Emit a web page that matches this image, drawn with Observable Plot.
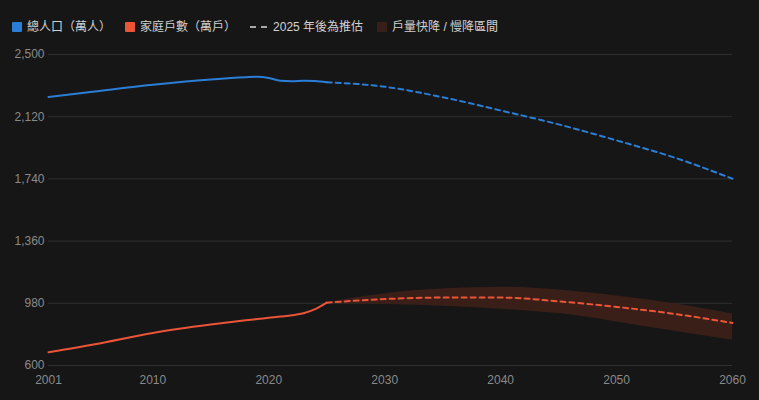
<!DOCTYPE html>
<html>
<head>
<meta charset="utf-8">
<script src="https://cdn.jsdelivr.net/npm/d3@7"></script>
<script src="https://cdn.jsdelivr.net/npm/@observablehq/plot@0.6"></script>
<style>
  html, body { margin: 0; padding: 0; background: #161616; width: 759px; height: 400px; overflow: hidden; }
  body { font-family: "Liberation Sans", "Noto Sans CJK TC", sans-serif; }
  #legend { height: 44px; box-sizing: border-box; padding: 20px 0 0 12px; display: flex; align-items: flex-start; font-size: 12px; color: #d2d2d2; line-height: 14px; font-family: "Liberation Sans", "Noto Sans CJK TC", sans-serif; }
  .item { display: flex; align-items: center; margin-right: 14px; height: 14px; }
  .sw { width: 10px; height: 10px; border-radius: 1px; margin-right: 5px; }
  .dash { width: 18px; height: 2px; margin-right: 5px; background: repeating-linear-gradient(90deg, #a9a9a9 0 6px, transparent 6px 11px); }
  #chart svg { display: block; }
</style>
</head>
<body>
<div id="legend"></div>
<div id="chart"></div>
<script>
// ---- data ----
const histYears = [2001,2005,2010,2015,2018,2019,2020,2021,2022,2023,2024,2025];
const histPop   = [2240,2274,2315,2347,2361,2364,2357,2340,2337,2340,2338,2331];
const histHH    = [681,730,799,850,876,884,891,899,907,919,944,984];
const projYears = [2025,2030,2035,2040,2045,2050,2055,2060];
const projPop   = [2331,2303,2239,2158,2073,1975,1870,1741];
const projHH    = [984,1006,1015,1015,992,958,915,860];
const bandHigh  = [984,1039,1067,1078,1062,1025,978,915];
const bandLow   = [984,973,962,944,917,866,809,754];
const xTicks = [2001,2010,2020,2030,2040,2050,2060];
const yTicks = [600,980,1360,1740,2120,2500];
const legendItems = [
  {label: "總人口（萬人）", color: "#2a7ed6", type: "sq"},
  {label: "家庭戶數（萬戶）", color: "#ea5437", type: "sq"},
  {label: "2025 年後為推估", color: "#a9a9a9", type: "dash"},
  {label: "戶量快降 / 慢降區間", color: "#3a1f19", type: "sq"}
];

const BLUE = "#2a7ed6", RED = "#ea5437", BAND = "#3a1f19";

// legend
const lg = document.getElementById("legend");
legendItems.forEach(it => {
  const d = document.createElement("div"); d.className = "item";
  const s = document.createElement("div");
  if (it.type === "dash") { s.className = "dash"; }
  else { s.className = "sw"; s.style.background = it.color; }
  const t = document.createElement("span"); t.textContent = it.label;
  d.appendChild(s); d.appendChild(t); lg.appendChild(d);
});

const hist = histYears.map((y,i) => ({year: y, pop: histPop[i], hh: histHH[i]}));
const proj = projYears.map((y,i) => ({year: y, pop: projPop[i], hh: projHH[i], hi: bandHigh[i], lo: bandLow[i]}));

const chart = Plot.plot({
  width: 759,
  height: 356,
  marginTop: 10,
  marginBottom: 35,
  marginLeft: 48,
  marginRight: 27,
  style: {background: "#161616", color: "#8a8a8a", fontSize: "12px", fontFamily: "'Liberation Sans', sans-serif"},
  x: {domain: [2001, 2060], ticks: xTicks, tickFormat: d => String(d), tickSize: 0, tickPadding: 10, label: null},
  y: {domain: [600, 2500], ticks: yTicks, tickFormat: d3.format(","), tickSize: 0, tickPadding: 4, label: null},
  marks: [
    Plot.gridY(yTicks, {stroke: "#2f2f2f", strokeOpacity: 1, strokeWidth: 1}),
    Plot.areaY(proj, {x: "year", y1: "lo", y2: "hi", fill: BAND, fillOpacity: 1, curve: "monotone-x"}),
    Plot.line(hist, {x: "year", y: "pop", stroke: BLUE, strokeWidth: 2, curve: "monotone-x"}),
    Plot.line(hist, {x: "year", y: "hh", stroke: RED, strokeWidth: 2, curve: "monotone-x"}),
    Plot.line(proj, {x: "year", y: "pop", stroke: BLUE, strokeWidth: 2, strokeDasharray: "5,4", curve: "monotone-x"}),
    Plot.line(proj, {x: "year", y: "hh", stroke: RED, strokeWidth: 2, strokeDasharray: "5,4", curve: "monotone-x"}),
    Plot.axisX({ticks: xTicks, tickFormat: d => String(d), tickSize: 0, tickPadding: 10, fill: "#8a8a8a"}),
    Plot.axisY({ticks: yTicks, tickFormat: d3.format(","), tickSize: 0, tickPadding: 4, fill: "#8a8a8a"})
  ]
});
document.getElementById("chart").appendChild(chart);
</script>
</body>
</html>
